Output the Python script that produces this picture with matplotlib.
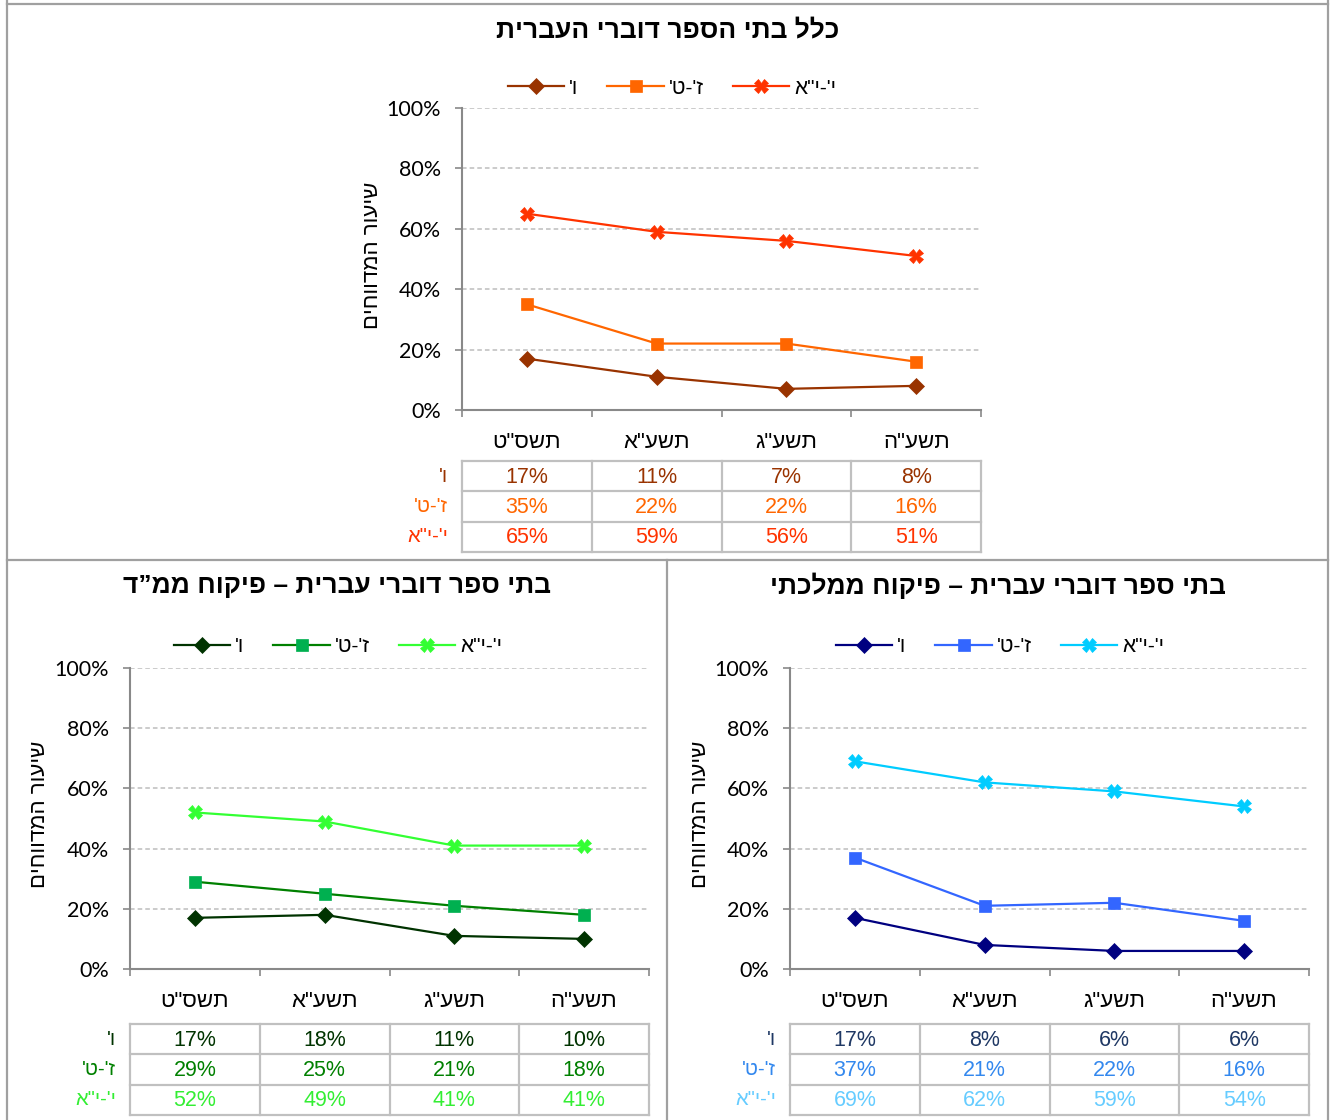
import matplotlib.pyplot as plt
from matplotlib.lines import Line2D

plt.rcParams['font.family'] = ['Liberation Sans', 'DejaVu Sans']

W, H = 1331, 1120

# data
years = ['תשס"ט', 'תשע"א', 'תשע"ג', 'תשע"ה']
grades = ["ו'", "ז'-ט'", 'י\'-י"א']

all_g6 = [17, 11, 7, 8]
all_g7_9 = [35, 22, 22, 16]
all_g10_11 = [65, 59, 56, 51]

mmd_g6 = [17, 18, 11, 10]
mmd_g7_9 = [29, 25, 21, 18]
mmd_g10_11 = [52, 49, 41, 41]

state_g6 = [17, 8, 6, 6]
state_g7_9 = [37, 21, 22, 16]
state_g10_11 = [69, 62, 59, 54]

y_label = 'שיעור המדווחים'
yticks = [0, 20, 40, 60, 80, 100]


def heb(s):
    # glyphs are laid out left to right, so feed the Hebrew in visual order
    return s[::-1]


def rect(x0, y0, x1, y1):
    return [x0 / W, 1 - y1 / H, (x1 - x0) / W, (y1 - y0) / H]


def fx(x):
    return x / W


def fy(y):
    return 1 - y / H


def draw_panel(fig, x0, top, title, title_xy, legend_xy, series, line_cols, marker_cols,
               text_cols, label_cols):
    y_top, y_bot = (108, 410) if top else (668, 969)
    ax = fig.add_axes(rect(x0, y_top, x0 + 519, y_bot))
    markers = ['D', 's', 'X']
    sizes = [8, 8, 10]
    xs = range(len(years))
    for vals, lbl, lc, mc, m, ms in zip(series, grades, line_cols, marker_cols, markers, sizes):
        ax.plot(xs, vals, color=lc, lw=1.6, marker=m, ms=ms, mfc=mc, mec=mc,
                mew=0.5, label=heb(lbl), clip_on=False, zorder=3)
    ax.set_xlim(-0.5, 3.5)
    ax.set_ylim(0, 100)
    ax.set_yticks(yticks)
    ax.set_yticklabels([f'{v}%' for v in yticks], fontsize=15.5, family='Lato')
    ax.set_xticks(list(xs))
    ax.set_xticklabels([heb(y) for y in years], fontsize=16)
    ax.set_xticks([-0.5, 0.5, 1.5, 2.5, 3.5], minor=True)
    ax.tick_params(axis='x', which='major', length=0, pad=16)
    ax.tick_params(axis='x', which='minor', length=5, width=1.2, color='#898989')
    ax.tick_params(axis='y', length=5, width=1.2, color='#898989', pad=10)
    for yv in yticks[1:]:
        ax.axhline(yv, color='#bdbdbd', lw=1.1, ls=(0, (3, 2)), zorder=1)
    for s in ['top', 'right']:
        ax.spines[s].set_visible(False)
    for s in ['left', 'bottom']:
        ax.spines[s].set_color('#898989')
        ax.spines[s].set_linewidth(1.5)

    # y axis title
    fig.text(fx(x0 - 90), fy((y_top + y_bot) / 2 - 4), heb(y_label), rotation=90,
             ha='center', va='center', fontsize=16)

    # title and legend
    fig.text(fx(title_xy[0]), fy(title_xy[1]), heb(title), ha='center', va='center',
             fontsize=19, fontweight='bold')
    fig.legend(*ax.get_legend_handles_labels(), loc='center',
               bbox_to_anchor=(fx(legend_xy[0]), fy(legend_xy[1])), ncol=3,
               frameon=False, fontsize=15, handlelength=2.7, handletextpad=0.25,
               columnspacing=1.4)

    # value table under the chart
    ty0 = 461 if top else 1024
    tab = fig.add_axes(rect(x0, ty0, x0 + 519, ty0 + 91))
    tab.set_xlim(0, 4)
    tab.set_ylim(3, 0)
    tab.axis('off')
    for r in range(4):
        tab.axhline(r, color='#c0c0c0', lw=1.6, clip_on=False)
    for c in range(5):
        tab.axvline(c, color='#c0c0c0', lw=1.6, clip_on=False)
    for r, (vals, col) in enumerate(zip(series, text_cols)):
        for c, v in enumerate(vals):
            tab.text(c + 0.5, r + 0.53, f'{v}%', ha='center', va='center',
                     fontsize=15.5, color=col)
        tab.text(-0.11, r + 0.5, heb(grades[r]), ha='right', va='center',
                 fontsize=14.5, color=label_cols[r])


fig = plt.figure(figsize=(W / 100, H / 100), dpi=100)

draw_panel(fig, 462, True, 'כלל בתי הספר דוברי העברית', (668, 30), (672, 88),
           [all_g6, all_g7_9, all_g10_11],
           ['#993300', '#FF6600', '#FF3300'], ['#993300', '#FF6600', '#FF3300'],
           ['#993300', '#FF6600', '#FF3300'], ['#993300', '#FF6600', '#FF3300'])

draw_panel(fig, 130, False, 'בתי ספר דוברי עברית – פיקוח ממ”ד', (337, 586), (338, 647),
           [mmd_g6, mmd_g7_9, mmd_g10_11],
           ['#003300', '#008000', '#33FF33'], ['#003300', '#00B050', '#33FF33'],
           ['#003300', '#008000', '#33EE33'], ['#003300', '#008000', '#33EE33'])

draw_panel(fig, 790, False, 'בתי ספר דוברי עברית – פיקוח ממלכתי', (998, 586), (1000, 647),
           [state_g6, state_g7_9, state_g10_11],
           ['#000080', '#3366FF', '#00CCFF'], ['#000080', '#3366FF', '#00CCFF'],
           ['#1F3864', '#3388EE', '#66CCFF'], ['#1F3864', '#3388EE', '#66CCFF'])

# panel borders
border = dict(color='#a0a0a0', lw=1.6, transform=fig.transFigure)
fig.add_artist(Line2D([fx(7), fx(7)], [fy(0), fy(1120)], **border))
fig.add_artist(Line2D([fx(1328), fx(1328)], [fy(0), fy(1120)], **border))
fig.add_artist(Line2D([fx(7), fx(1328)], [fy(4), fy(4)], **border))
fig.add_artist(Line2D([fx(7), fx(1328)], [fy(560), fy(560)], **border))
fig.add_artist(Line2D([fx(667), fx(667)], [fy(560), fy(1120)], **border))

fig.savefig('out.png', dpi=100)
